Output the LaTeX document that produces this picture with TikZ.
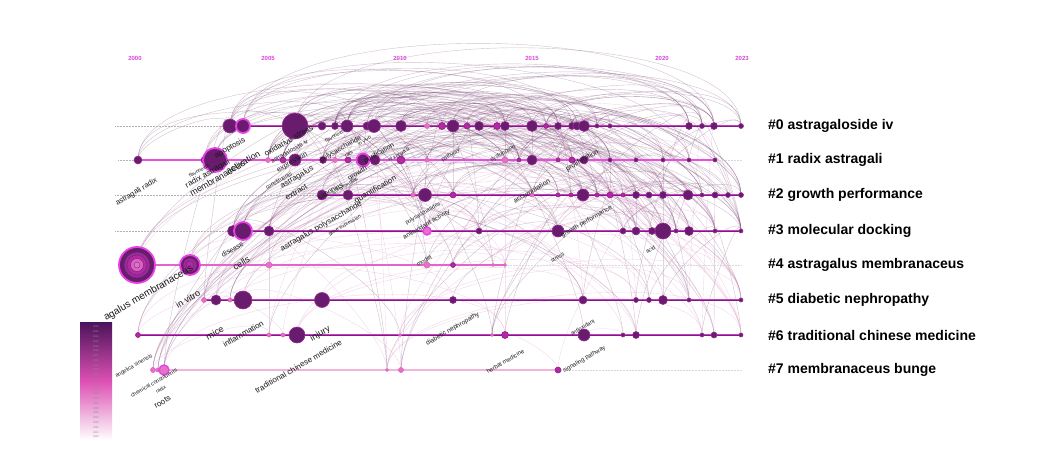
\documentclass[tikz,border=0pt]{standalone}
\usepackage{fontspec}
\setmainfont{Liberation Sans}
\usetikzlibrary{backgrounds}
\definecolor{kwdark}{RGB}{105,28,110}
\definecolor{kwring}{RGB}{150,45,150}
\definecolor{kwmag}{RGB}{180,40,165}
\definecolor{kwpink}{RGB}{228,115,200}
\definecolor{kwglow}{RGB}{232,65,232}
\definecolor{yearcol}{RGB}{215,70,215}
\definecolor{rowmag}{RGB}{205,60,200}
\definecolor{rowdark}{RGB}{125,28,125}
\definecolor{rowbright}{RGB}{230,80,225}
\definecolor{rowrose}{RGB}{228,100,205}
\definecolor{rowpink}{RGB}{242,180,218}
\definecolor{linkdark}{RGB}{105,50,100}
\definecolor{linklight}{RGB}{225,160,205}
\definecolor{legtop}{RGB}{75,20,90}
\definecolor{legmid}{RGB}{220,80,180}
\pgfdeclarelayer{lines}
\pgfsetlayers{background,lines,main}
\newcommand\fsz[1]{\fontsize{#1}{#1}\selectfont}

\begin{document}
\begin{tikzpicture}[x=1pt,y=-1pt,
  every node/.style={font=\fsz{7}},
  kw/.style={circle,inner sep=0pt,fill=kwdark,draw=kwring,line width=.6pt},
  kwg/.style={kw,draw=kwglow,line width=1.8pt},
  kwm/.style={kw,fill=kwmag,draw=kwmag!80!black},
  kwp/.style={kw,fill=kwpink,draw=kwpink!85!purple},
  kwpg/.style={kwp,draw=kwglow,line width=1.4pt},
  rowln/.style={line width=2.4pt,rowmag},
  rowcore/.style={line width=1pt,rowdark},
  stub/.style={densely dotted,black!30,line width=.5pt},
  lab/.style={anchor=south west,inner sep=0pt,rotate=30,text=black!90},
  clus/.style={anchor=west,inner sep=0pt,font=\fsz{14}\bfseries},
  yr/.style={font=\fsz{6}\bfseries,text=yearcol},
  link/.style={linkdark,opacity=.3,line width=.4pt},
  linkl/.style={linklight,opacity=.45,line width=.35pt}]
\useasboundingbox (0,0) rectangle (1045,455);

% time axis
\foreach \nm/\x/\t in {y0/135/2000,y1/268/2005,y2/400/2010,y3/532/2015,y4/662/2020,y5/742/2023}
  \node[yr] (\nm) at (\x,58) {\t};

% keywords, row by row
\foreach \nm/\x/\r/\s in {n1/230/7/kw,n2/243/7/kwg,n3/295/13/kw,n4/322/4/kw,n5/335/3.5/kw,n6/347/6/kw,
  n7/367/4/kw,n8/374/6.5/kw,n9/401/5.5/kw,n10/427/2.5/kwp,n11/442/3.5/kwm,n12/453/6/kw,n13/467/3/kwm,
  n14/479/4.5/kw,n15/497/3.5/kwm,n16/505/4.5/kw,n17/532/5.5/kw,n18/546/2.5/kwm,n19/558/3.5/kw,
  n20/572/3.5/kw,n21/577/4/kw,n22/584/5.5/kw,n23/597/2/kw,n24/610/2/kw,n25/689/3.5/kw,n26/702/2.5/kw,
  n27/714/3.5/kw,n28/741/2.5/kw}
  \node[\s,minimum size=2*\r] (\nm) at (\x,126) {};
\foreach \nm/\x/\r/\s in {n29/138/4/kw,n30/205/4/kw,n31/215/12/kwg,n32/268/2.5/kwp,n33/283/3/kwm,
  n34/295/6/kw,n35/323/3.5/kw,n36/335/2.5/kwp,n37/348/3/kwm,n38/363/6.5/kwg,n39/375/5/kw,n40/401/4/kwm,
  n41/427/2/kwp,n42/505/3/kwp,n43/519/2/kwm,n44/532/5/kw,n45/558/2/kwm,n46/572/3/kwm,n47/584/4/kw,
  n48/610/2/kw,n49/636/2/kw,n50/663/2/kw,n51/689/2/kw,n52/715/2/kw}
  \node[\s,minimum size=2*\r] (\nm) at (\x,160) {};
\foreach \nm/\x/\r/\s in {n53/322/5/kw,n54/348/5/kw,n55/413/2/kwp,n56/425/6.5/kw,n57/453/3/kwm,
  n58/532/2/kwp,n59/558/2/kwm,n60/571/2/kwm,n61/583/6/kw,n62/597/2/kwm,n63/610/3/kwm,n64/623/2/kwm,
  n65/636/3.5/kw,n66/649/3/kw,n67/663/3.5/kw,n68/688/5/kw,n69/702/2/kw,n70/715/3/kw,n71/728/2.5/kw,
  n72/741/2.5/kw}
  \node[\s,minimum size=2*\r] (\nm) at (\x,195) {};
\foreach \nm/\x/\r/\s in {n73/233/5.5/kw,n74/243/9/kwg,n75/269/5/kw,n76/427/4/kwpg,n77/479/3/kw,
  n78/558/6/kw,n79/623/3/kw,n80/636/4/kw,n81/652/3.5/kw,n82/663/8/kw,n83/676/2/kw,n84/689/4.5/kw,
  n85/715/2/kw,n86/741/2/kw}
  \node[\s,minimum size=2*\r] (\nm) at (\x,231) {};
\foreach \nm/\x/\r/\s in {n87/137/18/kwg,n88/190/10/kwg,n89/269/3/kwp,n90/427/3/kwp,n91/453/2.5/kwm,
  n92/493/1.5/kwp,n93/505/1.5/kwp}
  \node[\s,minimum size=2*\r] (\nm) at (\x,265) {};
\foreach \nm/\x/\r/\s in {n94/204/2.5/kwp,n95/216/5/kw,n96/230/2/kwp,n97/243/9/kw,n98/322/7.5/kw,
  n99/453/3.5/kw,n100/583/4/kw,n101/636/2.5/kw,n102/649/2.5/kw,n103/663/4.5/kw,n104/689/2/kw,n105/741/2/kw}
  \node[\s,minimum size=2*\r] (\nm) at (\x,300) {};
\foreach \nm/\x/\r/\s in {n106/138/2.5/kwm,n107/269/2/kwp,n108/283/2/kwp,n109/297/8/kw,n110/400/1.5/kwp,
  n111/492/1.5/kwp,n112/505/3.5/kwm,n113/584/6/kw,n114/623/2/kw,n115/636/3.5/kw,n116/702/2/kw,
  n117/714/3/kw,n118/741/2/kw}
  \node[\s,minimum size=2*\r] (\nm) at (\x,335) {};
\foreach \nm/\x/\r/\s in {n119/153/2.5/kwp,n120/158/2/kwp,n121/164/5/kwpg,n122/387/1.5/kwp,
  n123/401/2.5/kwp,n124/558/3/kwm}
  \node[\s,minimum size=2*\r] (\nm) at (\x,370) {};

% rings of the largest node
\foreach \rr/\cc in {16/kwdark,13/kwring,10/kwmag,6.5/kwpink!80!kwmag,3/kwpink}
  \draw[fill=\cc,draw=kwdark,line width=.3pt] (n87) circle (\rr);
\foreach \rr/\cc in {7/kwring,4/kwmag}
  \draw[fill=\cc,draw=kwdark,line width=.3pt] (n88) circle (\rr);

% free ends of the stubs
\coordinate (s0) at (115,126); \coordinate (s1) at (118,160);
\coordinate (s2) at (115,195); \coordinate (s3) at (115,231);
\coordinate (e1) at (742,160); \coordinate (e4) at (742,265); \coordinate (e7) at (742,370);

\begin{pgfonlayer}{lines}
\draw[rowln] (n1.center) -- (n28.center); \draw[rowcore] (n1.center) -- (n28.center);
\draw[rowln,rowbright,line width=2pt] (n29.center) -- (n52.center);
\draw[rowln] (n53.center) -- (n72.center); \draw[rowcore] (n53.center) -- (n72.center);
\draw[rowln] (n73.center) -- (n86.center); \draw[rowcore] (n73.center) -- (n86.center);
\draw[rowln,rowrose,line width=2pt] (n87.center) -- (n93.center);
\draw[rowln] (n94.center) -- (n105.center); \draw[rowcore] (n94.center) -- (n105.center);
\draw[rowln] (n106.center) -- (n118.center); \draw[rowcore] (n106.center) -- (n118.center);
\draw[rowln,rowpink,line width=2pt] (n119.center) -- (n124.center);
\draw[stub] (s0) -- (n1); \draw[stub] (s1) -- (n29);
\draw[stub] (s2) -- (n53); \draw[stub] (s3) -- (n73);
\draw[stub,black!15] (n52) -- (e1); \draw[stub,black!15] (n93) -- (e4);
\draw[stub,black!15] (n124) -- (e7);
\end{pgfonlayer}

% co-occurrence links
\begin{pgfonlayer}{background}
\pgfmathsetseed{11}
\foreach \k in {1,...,300}{
  \pgfmathtruncatemacro\a{random(1,86)}
  \pgfmathtruncatemacro\b{random(1,124)}
  \draw[link] (n\a.center) to[out=90,in=90,looseness=.6] (n\b.center);
}
\foreach \k in {1,...,90}{
  \pgfmathtruncatemacro\a{random(73,124)}
  \pgfmathtruncatemacro\b{random(1,124)}
  \draw[linkl] (n\a.center) to[out=90,in=90,looseness=.55] (n\b.center);
}
\end{pgfonlayer}

% keyword labels
\foreach \nm/\x/\y/\s/\t in {
  l1/118/207/7.5/astragali radix, l2/190/178/5/flavonoids, l3/188/190/8/radix astragali,
  l4/192/197/9/membranaceus, l5/217/160/8/apoptosis, l6/228/175/9/activation,
  l7/266/157/8/oxidative stress, l8/273/165/6/astragaloside iv, l9/279/174/7/expression,
  l10/267/190/5.5/constituents, l11/283/190/8/astragalus, l12/326/143/5/flavonoid,
  l13/322/164/7/polysaccharide, l14/346/158/5/rats, l15/359/146/5/in vivo,
  l16/350/182/7/growth, l17/366/165/7/purification, l18/390/163/5/nf kappa b,
  l19/287/201/8/extract, l20/320/202/7/saponins, l21/333/195/5/isoflavonoids,
  l22/357/205/8/quantification, l23/330/237/5/gene expression,
  l24/283/253/8/astragalus polysaccharide, l25/223/258/7/disease, l26/235/271/9/cells,
  l27/107/323/10/agalus membranaceus, l28/178/309/9/in vitro, l29/208/341/9/mice,
  l30/225/348/8/inflammation, l31/313/343/9/injury, l32/257/394/8/traditional chinese medicine,
  l33/117/379/5.5/angelica sinensis, l34/132/398/5.5/chemical constituents, l35/157/394/5/radix,
  l36/156/409/8/roots, l37/428/347/6.5/diabetic nephropathy, l38/572/336/5.5/antioxidant,
  l39/488/374/6/herbal medicine, l40/565/374/6/signaling pathway, l41/418/267/6/model,
  l42/552/263/5.5/stress, l43/647/254/5.5/acid, l44/563/239/6.5/growth performance,
  l45/407/226/5.5/polysaccharides, l46/405/241/6.5/antioxidant activity,
  l47/515/204/7/accumulation, l48/443/163/5.5/pathway, l49/492/163/5.5/dysfunction,
  l50/568/173/7/proliferation}
  \node[lab,font=\fsz{\s}] (\nm) at (\x,\y) {\t};

% cluster names
\node[clus] (c0) at (768,126) {\#0 astragaloside iv};
\node[clus] (c1) at (768,160) {\#1 radix astragali};
\node[clus] (c2) at (768,195) {\#2 growth performance};
\node[clus] (c3) at (768,231) {\#3 molecular docking};
\node[clus] (c4) at (768,265) {\#4 astragalus membranaceus};
\node[clus] (c5) at (768,300) {\#5 diabetic nephropathy};
\node[clus] (c6) at (768,335) {\#6 traditional chinese medicine};
\node[clus] (c7) at (768,370) {\#7 membranaceus bunge};

% colour legend
\node[inner sep=0pt,minimum width=32pt,minimum height=118pt,top color=legtop,bottom color=white,
  middle color=legmid] (legend) at (96,381) {};
\foreach \i in {0,...,23}{
  \pgfmathtruncatemacro\yy{2023-\i}
  \node[font=\fsz{2.6},text=black!45,inner sep=0pt] (ly\i) at (96,327+4.78*\i) {\yy};
}
\end{tikzpicture}
\end{document}
